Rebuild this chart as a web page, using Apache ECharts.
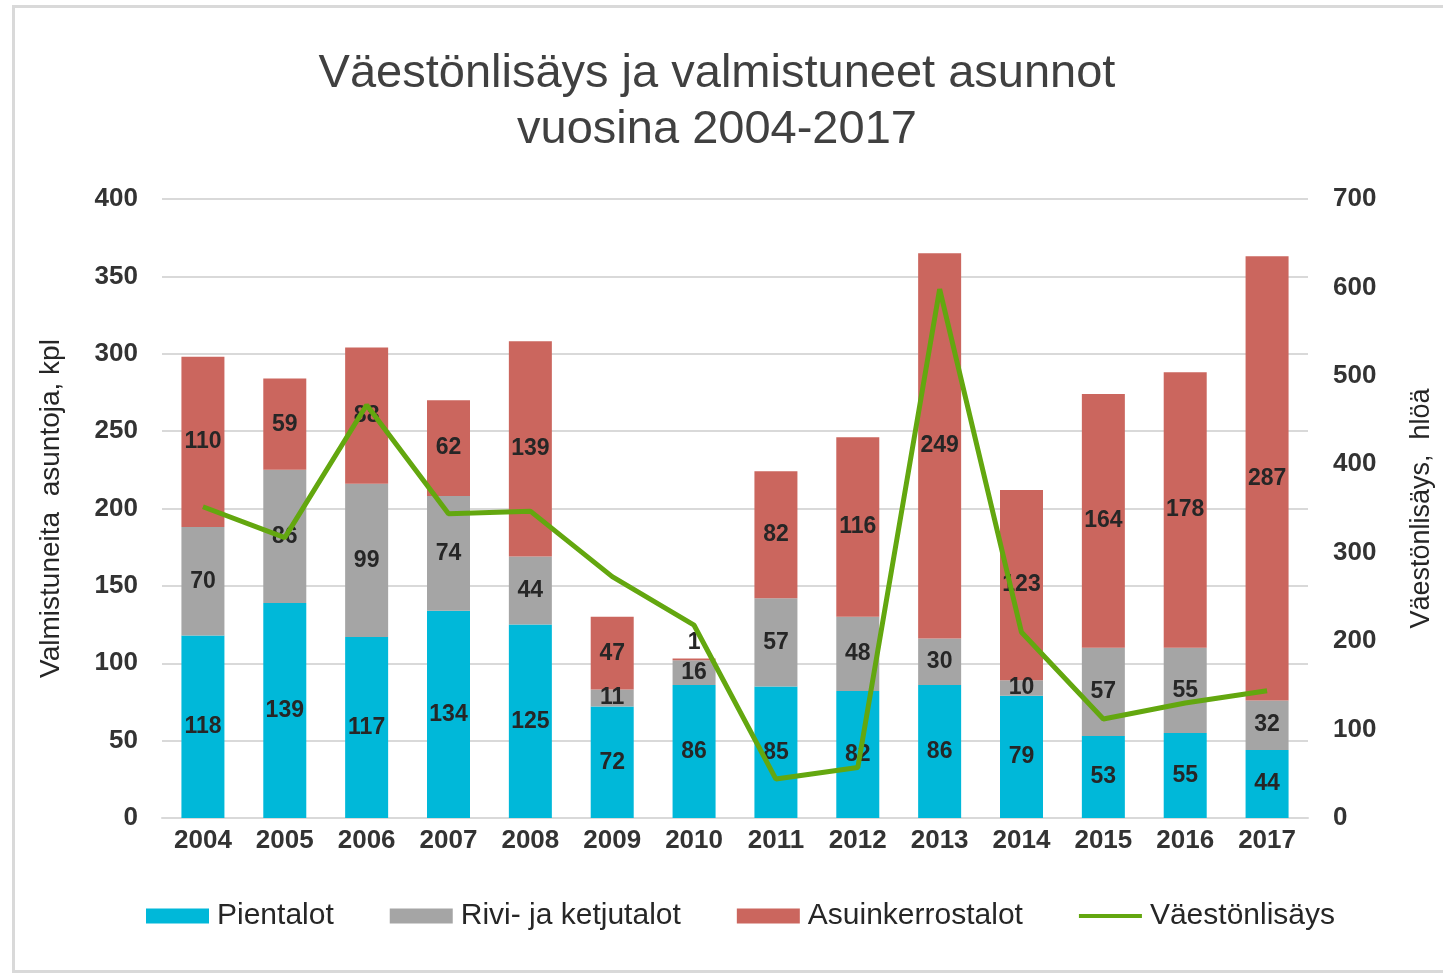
<!DOCTYPE html>
<html>
<head>
<meta charset="utf-8">
<title>Väestönlisäys ja valmistuneet asunnot</title>
<script src="https://cdn.jsdelivr.net/npm/echarts@6/dist/echarts.min.js"></script>
<style>
  html, body { margin: 0; padding: 0; background: #fff; overflow: hidden; }
  #chart { width: 1443px; height: 974px; }
  #frame {
    position: absolute; left: 12px; top: 5px; width: 1428px; height: 962px;
    border: 3px solid #d9d9d9; border-right: none; pointer-events: none;
  }
</style>
</head>
<body>
<div id="chart"></div>
<div id="frame"></div>
<script>
// data
const years = ['2004', '2005', '2006', '2007', '2008', '2009', '2010', '2011', '2012', '2013', '2014', '2015', '2016', '2017']
const pientalot = [118, 139, 117, 134, 125, 72, 86, 85, 82, 86, 79, 53, 55, 44]
const rivitalot = [70, 86, 99, 74, 44, 11, 16, 57, 48, 30, 10, 57, 55, 32]
const kerrostalot = [110, 59, 88, 62, 139, 47, 1, 82, 116, 249, 123, 164, 178, 287]
const vaestonlisays = [352, 317, 467, 344, 347, 273, 218, 44, 57, 598, 210, 112, 130, 144]
const leftTicks = [0, 400, 50]
const rightTicks = [0, 700, 100]

const chart = echarts.init(document.getElementById('chart'))

const labelStyle = {
  show: true,
  position: 'inside',
  color: '#262626',
  fontFamily: 'Liberation Sans, Arial, sans-serif',
  fontWeight: 'bold',
  fontSize: 23
}

function barSeries(name, values, color) {
  return {
    name,
    type: 'bar',
    stack: 'asunnot',
    barWidth: 43,
    itemStyle: { color },
    label: labelStyle,
    // a tiny segment puts its label above the bar, as Excel does
    data: values.map((v) => (v < 5 ? { value: v, label: { position: 'top', distance: 4 } } : v))
  }
}

chart.setOption({
  animation: false,
  title: {
    text: 'Väestönlisäys ja valmistuneet asunnot\nvuosina 2004-2017',
    left: 712,
    textAlign: 'center',
    top: 41,
    textStyle: {
      fontFamily: 'Liberation Sans, Arial, sans-serif',
      fontWeight: 'normal',
      fontSize: 47,
      lineHeight: 56,
      color: '#404040'
    }
  },
  grid: { left: 162, right: 124, top: 199, bottom: 156 },
  legend: {
    bottom: 38,
    left: 141,
    itemWidth: 63,
    itemHeight: 15,
    itemGap: 56,
    icon: 'rect',
    textStyle: {
      fontFamily: 'Liberation Sans, Arial, sans-serif',
      fontSize: 30,
      color: '#262626',
      padding: [0, 0, 0, 3]
    },
    data: [
      'Pientalot',
      'Rivi- ja ketjutalot',
      'Asuinkerrostalot',
      { name: 'Väestönlisäys', icon: 'path://M0,6 L64,6 L64,10 L0,10 Z' }
    ]
  },
  xAxis: {
    type: 'category',
    data: years,
    axisLine: { lineStyle: { color: '#d9d9d9', width: 2 } },
    axisTick: { show: false },
    axisLabel: {
      margin: 10,
      color: '#333',
      fontFamily: 'Liberation Sans, Arial, sans-serif',
      fontWeight: 'bold',
      fontSize: 26
    }
  },
  yAxis: [
    {
      type: 'value',
      min: leftTicks[0],
      max: leftTicks[1],
      interval: leftTicks[2],
      name: 'Valmistuneita  asuntoja, kpl',
      nameLocation: 'middle',
      nameGap: 97,
      nameTextStyle: {
        fontFamily: 'Liberation Sans, Arial, sans-serif',
        fontSize: 28,
        color: '#262626'
      },
      axisLine: { show: false },
      axisTick: { show: false },
      splitLine: { lineStyle: { color: '#d9d9d9', width: 2 } },
      axisLabel: {
        margin: 24,
        color: '#333',
        fontFamily: 'Liberation Sans, Arial, sans-serif',
        fontWeight: 'bold',
        fontSize: 26
      }
    },
    {
      type: 'value',
      min: rightTicks[0],
      max: rightTicks[1],
      interval: rightTicks[2],
      name: 'Väestönlisäys,  hlöä',
      nameLocation: 'middle',
      nameGap: 100,
      nameTextStyle: {
        fontFamily: 'Liberation Sans, Arial, sans-serif',
        fontSize: 27,
        color: '#262626'
      },
      axisLine: { show: false },
      axisTick: { show: false },
      splitLine: { show: false },
      axisLabel: {
        margin: 25,
        color: '#333',
        fontFamily: 'Liberation Sans, Arial, sans-serif',
        fontWeight: 'bold',
        fontSize: 26
      }
    }
  ],
  series: [
    barSeries('Pientalot', pientalot, '#00b8d9'),
    barSeries('Rivi- ja ketjutalot', rivitalot, '#a5a5a5'),
    barSeries('Asuinkerrostalot', kerrostalot, '#cb665e'),
    {
      name: 'Väestönlisäys',
      type: 'line',
      yAxisIndex: 1,
      data: vaestonlisays,
      symbol: 'none',
      itemStyle: { color: '#63a70f' },
      lineStyle: { color: '#63a70f', width: 5 },
      z: 5
    }
  ]
})
</script>
</body>
</html>
